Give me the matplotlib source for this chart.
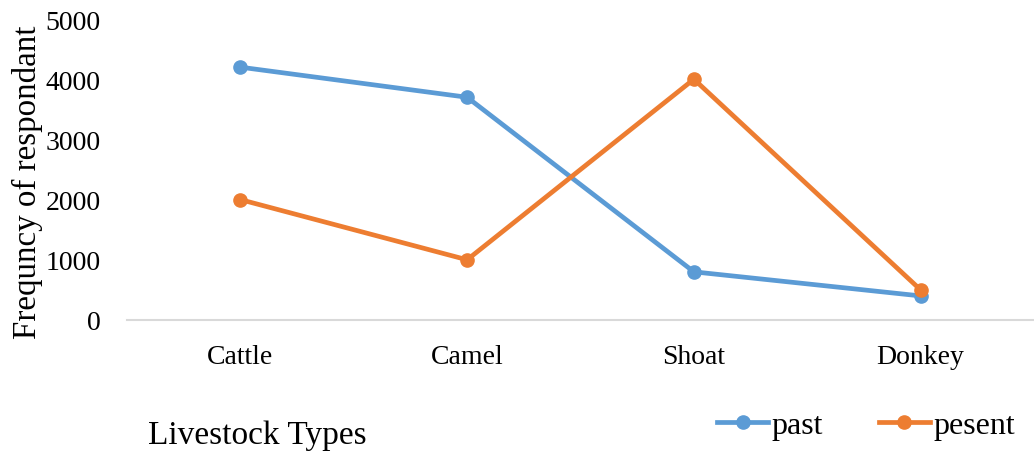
import matplotlib.pyplot as plt

plt.rcParams["font.family"] = ["Liberation Serif", "DejaVu Serif"]

CATEGORIES = ["Cattle", "Camel", "Shoat", "Donkey"]
PAST = [4200, 3700, 800, 400]
PRESENT = [2000, 1000, 4000, 500]

BLUE = "#5B9BD5"
ORANGE = "#ED7D31"


def main():
    fig = plt.figure(figsize=(10.34, 4.52), dpi=100)
    ax = fig.add_axes([127 / 1034, 131 / 452, 1 - 127 / 1034, 301 / 452])

    x = range(len(CATEGORIES))
    ax.plot(x, PAST, color=BLUE, linewidth=3.4, marker="o", markersize=9.5, label="past")
    ax.plot(x, PRESENT, color=ORANGE, linewidth=3.4, marker="o", markersize=9.5, label="pesent")

    ax.set_xlim(-0.5, len(CATEGORIES) - 0.5)
    ax.set_ylim(0, 5000)
    ax.set_yticks(range(0, 5001, 1000))
    ax.set_xticks(list(x))
    ax.set_xticklabels(CATEGORIES)
    ax.tick_params(axis="both", length=0, labelsize=20)
    ax.tick_params(axis="x", pad=17)
    ax.tick_params(axis="y", pad=19)

    for side in ("top", "right", "left"):
        ax.spines[side].set_visible(False)
    ax.spines["bottom"].set_color("#D9D9D9")
    ax.spines["bottom"].set_linewidth(1.5)

    ax.set_ylabel("Frequncy of respondant", fontsize=23.8)
    ax.yaxis.set_label_coords(-0.093, 0.46)

    fig.text(148 / 1034, 1 - 436 / 452, "Livestock Types", fontsize=24, va="center", ha="left")

    fig.legend(loc="center", bbox_to_anchor=(866 / 1034, 1 - 426 / 452), ncol=2, frameon=False,
               fontsize=23, handlelength=1.6, handletextpad=0.1, columnspacing=1.75,
               borderaxespad=0)

    fig.savefig("out.png", dpi=100, facecolor="white")


if __name__ == "__main__":
    main()
